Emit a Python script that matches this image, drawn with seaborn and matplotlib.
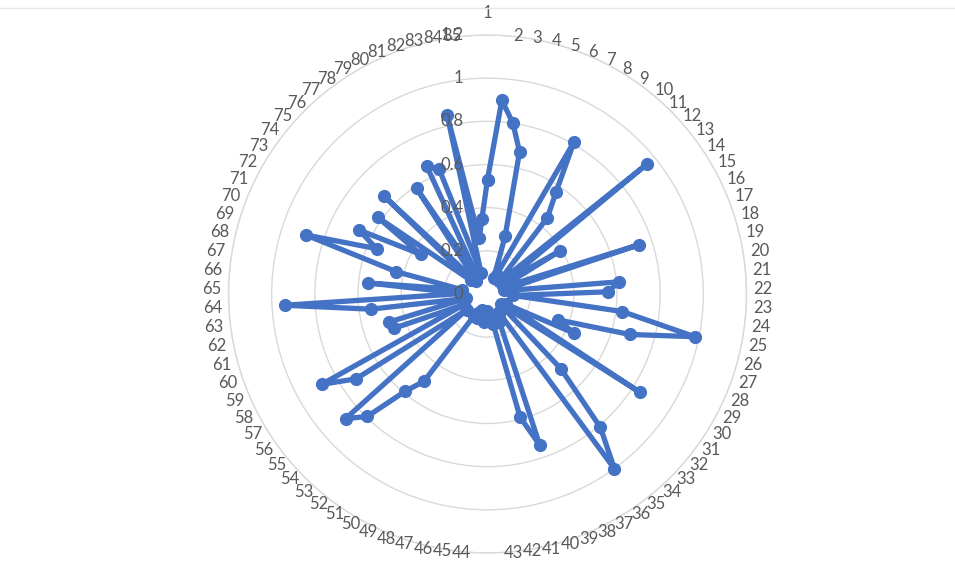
import numpy as np
import pandas as pd
import matplotlib
matplotlib.use("Agg")
import matplotlib.pyplot as plt
import matplotlib.transforms as mtransforms
import seaborn as sns

# Categories 1..85 around the circle, one value each
categories = [str(i) for i in range(1, 86)]
values = [
    0.53, 0.90, 0.80, 0.675, 0.28, 0.08, 0.10, 0.81, 0.57, 0.45,   # 1-10
    0.08, 0.10, 0.955, 0.10, 0.39, 0.08, 0.10, 0.74, 0.08, 0.10,   # 11-20
    0.61, 0.56, 0.12, 0.63, 0.98, 0.685, 0.35, 0.44, 0.10, 0.84,   # 21-30
    0.08, 0.10, 0.485, 0.81, 1.00, 0.10, 0.12, 0.14, 0.74, 0.59,   # 31-40
    0.14, 0.10, 0.12, 0.08, 0.13, 0.09, 0.12, 0.08, 0.12, 0.10,    # 41-50
    0.12, 0.50, 0.59, 0.795, 0.875, 0.12, 0.725, 0.875, 0.12, 0.46,  # 51-60
    0.475, 0.10, 0.545, 0.94, 0.12, 0.555, 0.12, 0.435, 0.885, 0.555,  # 61-70
    0.665, 0.36, 0.62, 0.10, 0.66, 0.08, 0.12, 0.59, 0.10, 0.655,  # 71-80
    0.62, 0.10, 0.85, 0.26, 0.35,                                  # 81-85
]
r_ticks = [0, 0.2, 0.4, 0.6, 0.8, 1.0, 1.2]
r_tick_labels = ["0", "0.2", "0.4", "0.6", "0.8", "1", "1.2"]

LINE_BLUE = "#4472C4"
GRID_GREY = "#D9D9D9"
TEXT_GREY = "#595959"

sns.set_style("white")
plt.rcParams["font.family"] = ["Lato", "DejaVu Sans"]
LABEL_SIZE = 12

W, H, DPI = 955, 577, 100
fig = plt.figure(figsize=(W / DPI, H / DPI), dpi=DPI)
fig.patch.set_facecolor("white")

# plot area: centre (487.5, 294) px, outer ring radius 259 px
cx, cy, R = 487.5, 294.0, 259.0
ax = fig.add_axes([(cx - R) / W, (H - cy - R) / H, 2 * R / W, 2 * R / H],
                  projection="polar")
ax.set_theta_zero_location("N")
ax.set_theta_direction(-1)

n = len(categories)
theta = [2 * np.pi * i / n for i in range(n)]
df = pd.DataFrame({"theta": theta + [theta[0] + 2 * np.pi],
                   "value": values + [values[0]]})

sns.lineplot(data=df, x="theta", y="value", sort=False, estimator=None,
             ax=ax, color=LINE_BLUE, linewidth=3.8, marker="o",
             markersize=9.5, markeredgewidth=0, legend=False, zorder=3)

rmax = r_ticks[-1]
ax.set_ylim(0, rmax)
ax.set_yticks(r_ticks)
ax.set_yticklabels([])
ax.set_xticks([])
ax.grid(False)
ax.yaxis.grid(True, color=GRID_GREY, linewidth=1.0)
ax.spines["polar"].set_color(GRID_GREY)
ax.spines["polar"].set_linewidth(1.0)
ax.set_xlabel("")
ax.set_ylabel("")

# value-axis labels along the top spoke, to the left
off = mtransforms.offset_copy(ax.transData, fig=fig, x=-24, y=0, units="dots")
for v, lab in zip(r_ticks, r_tick_labels):
    ax.text(0, v, lab, transform=off, ha="right", va="center",
            fontsize=LABEL_SIZE, color=TEXT_GREY, zorder=4, clip_on=False)

# category labels anchored on the outer ring, pushed sideways
right_off = mtransforms.offset_copy(ax.transData, fig=fig, x=7, units="dots")
left_off = mtransforms.offset_copy(ax.transData, fig=fig, x=-7, units="dots")
top_off = mtransforms.offset_copy(ax.transData, fig=fig, y=22, units="dots")
for t, lab in zip(theta, categories):
    deg = np.degrees(t)
    if deg < 0.01:
        ax.text(t, rmax, lab, transform=top_off, ha="center", va="center",
                fontsize=LABEL_SIZE, color=TEXT_GREY, clip_on=False)
    elif deg < 180:
        ax.text(t, rmax, lab, transform=right_off, ha="left", va="center",
                fontsize=LABEL_SIZE, color=TEXT_GREY, clip_on=False)
    else:
        ax.text(t, rmax, lab, transform=left_off, ha="right", va="center",
                fontsize=LABEL_SIZE, color=TEXT_GREY, clip_on=False)

# thin frame line along the top
fig.add_artist(plt.Line2D([0, 1], [1 - 8 / H, 1 - 8 / H],
                          transform=fig.transFigure, color="#E6E6E6",
                          linewidth=1.0))

fig.savefig("out.png", dpi=DPI, facecolor="white")
